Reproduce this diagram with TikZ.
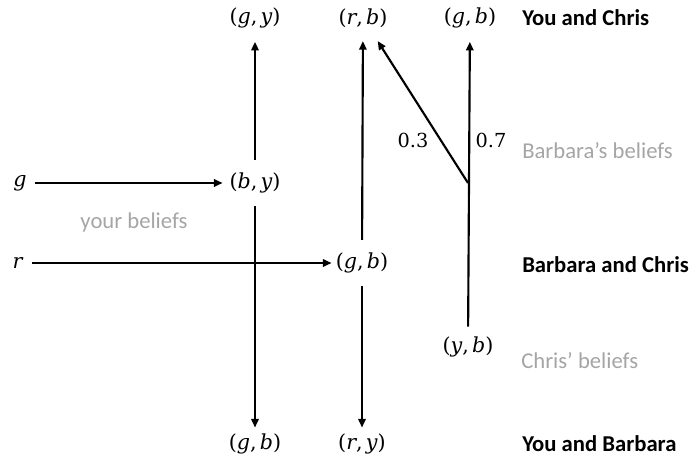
\RequirePackage{fix-cm}
\documentclass[tikz,border=0pt]{standalone}
\usepackage{fontspec}
\setmainfont{Carlito}
\newfontfamily\varfont{DejaVu Serif}
\newcommand{\vr}[1]{\textit{#1}}
\newcommand{\pair}[2]{(\vr{#1},\hspace{0.15em}\vr{#2})}
\usetikzlibrary{arrows.meta}
\definecolor{lightgraytext}{RGB}{165,165,165}
\tikzset{
  var/.style={font=\varfont\fontsize{15.5}{17}\selectfont, inner xsep=5pt},
  topvar/.style={var, inner ysep=10pt},
  midvar/.style={var, inner ysep=9.5pt},
  botvar/.style={var, inner ysep=4.5pt},
  head/.style={font=\bfseries\fontsize{17}{19}\selectfont, anchor=west, inner sep=0pt},
  belief/.style={font=\fontsize{17}{19}\selectfont, text=lightgraytext, inner sep=0pt},
  prob/.style={font=\varfont\fontsize{14.5}{16}\selectfont, inner sep=0pt},
  arr/.style={line width=1.6pt, -{Triangle[length=6.5pt,width=5.5pt]}}
}
\begin{document}
\begin{tikzpicture}[x=0.75pt,y=-0.75pt]
\useasboundingbox (0,0) rectangle (689,464);
% top row
\node[topvar] (gy) at (255,18) {\pair{g}{y}};
\node[topvar] (rb) at (363,18) {\pair{r}{b}};
\node[topvar] (gbT) at (470,18) {\pair{g}{b}};
\node[head] (hYC) at (522,18) {You and Chris};
% middle
\node[var, inner xsep=6pt] (g) at (20,183) {\vr{g}};
\node[midvar, inner xsep=5pt] (by) at (255,183) {\pair{b}{y}};
\node[var, inner xsep=6pt] (r) at (18,263) {\vr{r}};
\node[midvar, inner xsep=3pt] (gbM) at (362,263) {\pair{g}{b}};
\node[var, inner ysep=7.5pt] (yb) at (468,347) {\pair{y}{b}};
% bottom
\node[botvar] (gbB) at (255,444) {\pair{g}{b}};
\node[botvar] (ry) at (362,444) {\pair{r}{y}};
\node[head] (hYB) at (522,444) {You and Barbara};
\node[head] (hBC) at (522,265) {Barbara and Chris};
% beliefs
\node[belief, anchor=west] (bB) at (522,151) {Barbara’s beliefs};
\node[belief] (bY) at (134,222) {your beliefs};
\node[belief, anchor=west] (bC) at (521,361) {Chris’ beliefs};
% probabilities
\node[prob] (p3) at (413,140) {0.3};
\node[prob] (p7) at (491,140) {0.7};
% connectors
\coordinate (split) at (468,183);
\draw[arr] (g) -- (by);
\draw[arr] (r) -- (gbM);
\draw[arr] (by) -- (gy);
\draw[arr] (by) -- (gbB);
\draw[arr] (gbM) -- (rb);
\draw[arr] (gbM) -- (ry);
\draw[arr] (yb) -- (gbT);
\draw[arr] (split) -- (rb);
\end{tikzpicture}
\end{document}
